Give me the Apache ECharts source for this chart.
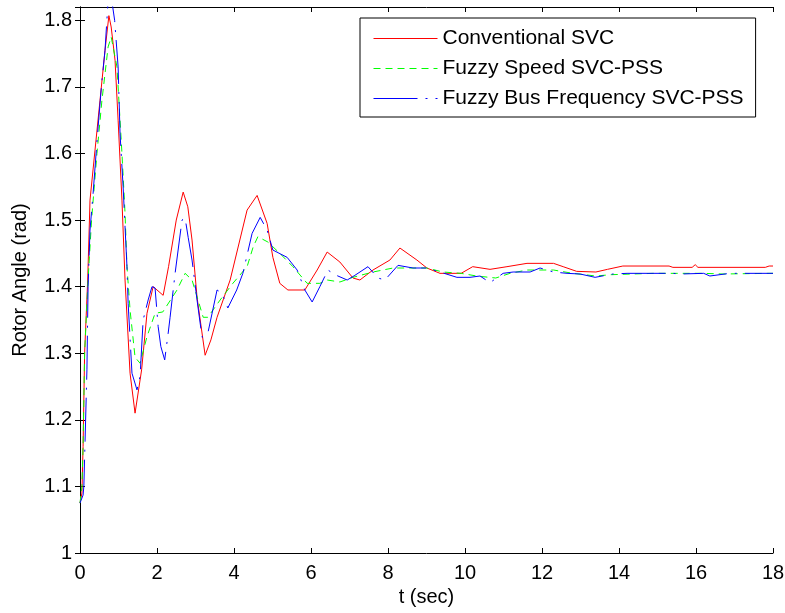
<!DOCTYPE html>
<html>
<head>
<meta charset="utf-8">
<script src="https://cdn.jsdelivr.net/npm/echarts@6/dist/echarts.min.js"></script>
<style>
  html, body { margin: 0; padding: 0; background: #fff; }
  #chart { width: 785px; height: 613px; }
</style>
</head>
<body>
<div id="chart"></div>
<script>
  // Conventional SVC
  var tRed = [0, 0.05, 0.08, 0.12, 0.2, 0.26, 0.39, 0.52, 0.65, 0.75, 0.81, 0.91, 0.99, 1.09, 1.17, 1.3, 1.43, 1.6, 1.74, 1.9, 2.0, 2.16, 2.3, 2.5, 2.68, 2.8, 2.91, 3.04, 3.25, 3.4, 3.56, 3.9, 4.34, 4.6, 4.86, 5.01, 5.19, 5.4, 5.84, 6.16, 6.42, 6.75, 7.09, 7.27, 7.61, 8.05, 8.31, 8.75, 9.01, 9.35, 9.9, 10.2, 10.65, 11.09, 11.61, 12.3, 12.55, 12.9, 13.4, 13.7, 14.1, 15.3, 15.4, 15.9, 15.98, 16.05, 17.8, 17.9, 18]
  var vRed = [1.075, 1.09, 1.16, 1.3, 1.41, 1.53, 1.605, 1.68, 1.755, 1.807, 1.79, 1.74, 1.65, 1.53, 1.41, 1.27, 1.21, 1.275, 1.36, 1.4, 1.395, 1.387, 1.43, 1.5, 1.542, 1.52, 1.47, 1.384, 1.297, 1.32, 1.354, 1.41, 1.515, 1.537, 1.495, 1.444, 1.405, 1.395, 1.395, 1.425, 1.452, 1.437, 1.413, 1.41, 1.425, 1.44, 1.458, 1.44, 1.428, 1.42, 1.42, 1.43, 1.426, 1.43, 1.435, 1.435, 1.43, 1.423, 1.422, 1.426, 1.431, 1.431, 1.429, 1.429, 1.433, 1.429, 1.429, 1.431, 1.431]

  // Fuzzy Speed SVC-PSS
  var tGreen = [0, 0.05, 0.08, 0.12, 0.2, 0.3, 0.44, 0.57, 0.73, 0.81, 0.96, 1.09, 1.17, 1.22, 1.3, 1.43, 1.56, 1.74, 1.95, 2.15, 2.52, 2.73, 2.91, 3.2, 3.32, 3.64, 3.97, 4.34, 4.5, 4.62, 4.88, 5.19, 5.53, 5.9, 6.23, 6.42, 6.75, 7.09, 7.61, 8.13, 9.0, 9.43, 9.9, 10.3, 10.8, 11.17, 11.61, 12.3, 12.8, 13.4, 13.8, 14.9, 16.2, 16.7, 17.9, 18]
  var vGreen = [1.075, 1.1, 1.16, 1.3, 1.4, 1.5, 1.6, 1.68, 1.76, 1.775, 1.73, 1.6, 1.51, 1.43, 1.365, 1.294, 1.285, 1.325, 1.36, 1.362, 1.395, 1.42, 1.41, 1.354, 1.354, 1.38, 1.405, 1.43, 1.46, 1.475, 1.467, 1.45, 1.43, 1.405, 1.405, 1.41, 1.407, 1.414, 1.422, 1.428, 1.428, 1.422, 1.42, 1.416, 1.413, 1.42, 1.425, 1.425, 1.42, 1.416, 1.418, 1.42, 1.42, 1.419, 1.42, 1.42]

  // Fuzzy Bus Frequency SVC-PSS
  var tBlue = [0, 0.08, 0.1, 0.18, 0.21, 0.26, 0.34, 0.47, 0.57, 0.65, 0.73, 0.8, 0.9, 0.99, 1.04, 1.12, 1.22, 1.25, 1.35, 1.48, 1.56, 1.64, 1.77, 1.87, 1.95, 2.03, 2.1, 2.2, 2.29, 2.34, 2.47, 2.65, 2.73, 2.81, 2.91, 3.04, 3.17, 3.32, 3.56, 3.69, 3.84, 4.07, 4.23, 4.47, 4.68, 4.86, 5.01, 5.38, 5.64, 5.84, 6.03, 6.23, 6.44, 6.62, 6.94, 7.14, 7.48, 7.74, 7.92, 8.26, 8.65, 9.0, 9.35, 9.79, 10.13, 10.39, 10.65, 10.99, 11.25, 11.69, 11.95, 12.3, 12.65, 12.99, 13.38, 13.84, 14.21, 15.4, 15.6, 16.2, 16.36, 16.88, 18]
  var vBlue = [1.075, 1.087, 1.1, 1.275, 1.4, 1.485, 1.54, 1.64, 1.71, 1.755, 1.83, 1.84, 1.8, 1.73, 1.63, 1.55, 1.43, 1.375, 1.27, 1.245, 1.265, 1.35, 1.38, 1.4, 1.398, 1.34, 1.31, 1.29, 1.33, 1.354, 1.42, 1.5, 1.503, 1.474, 1.44, 1.38, 1.324, 1.33, 1.395, 1.39, 1.368, 1.395, 1.42, 1.48, 1.504, 1.485, 1.455, 1.444, 1.425, 1.395, 1.377, 1.4, 1.425, 1.418, 1.41, 1.417, 1.43, 1.413, 1.41, 1.432, 1.428, 1.428, 1.422, 1.414, 1.414, 1.416, 1.406, 1.42, 1.422, 1.422, 1.428, 1.422, 1.42, 1.419, 1.414, 1.419, 1.42, 1.42, 1.419, 1.42, 1.416, 1.42, 1.42]

  var xTicks = [0, 2, 4, 6, 8, 10, 12, 14, 16, 18]
  var yTicks = [1, 1.1, 1.2, 1.3, 1.4, 1.5, 1.6, 1.7, 1.8]

  function pairs(t, v) {
    return t.map(function (x, i) { return [x, v[i]] })
  }

  var font = 'Liberation Sans'
  var axisBase = {
    axisLine: { show: true, lineStyle: { color: '#000', width: 1 } },
    axisTick: { show: true, inside: true, length: 5, lineStyle: { color: '#000' } },
    splitLine: { show: false }
  }

  var chart = echarts.init(document.getElementById('chart'))
  chart.setOption({
    backgroundColor: '#fff',
    animation: false,
    grid: { left: 80, right: 12, top: 7, bottom: 60, outerBoundsMode: 'none' },
    legend: {
      orient: 'vertical',
      left: 360,
      top: 18,
      padding: [10, 12, 8, 13],
      itemWidth: 64,
      itemHeight: 14,
      itemGap: 9,
      borderColor: '#000',
      borderWidth: 1,
      borderRadius: 0,
      backgroundColor: '#fff',
      itemStyle: { opacity: 0 },
      lineStyle: { width: 1 },
      textStyle: { fontFamily: font, fontSize: 21, color: '#000' },
      data: ['Conventional SVC', 'Fuzzy Speed SVC-PSS', 'Fuzzy Bus Frequency SVC-PSS']
    },
    xAxis: [
      Object.assign({
        type: 'value', min: xTicks[0], max: xTicks[xTicks.length - 1], interval: 2,
        name: 't (sec)', nameLocation: 'middle', nameGap: 34,
        nameTextStyle: { fontFamily: font, fontSize: 20, color: '#000' },
        axisLabel: { fontFamily: font, fontSize: 20, color: '#000', margin: 10 }
      }, axisBase),
      Object.assign({
        type: 'value', position: 'top', min: 0, max: 18, interval: 2,
        axisLabel: { show: false }
      }, axisBase)
    ],
    yAxis: [
      Object.assign({
        type: 'value', min: yTicks[0], max: 1.82, interval: 0.1,
        name: 'Rotor Angle (rad)', nameLocation: 'middle', nameGap: 50,
        nameTextStyle: { fontFamily: font, fontSize: 20, color: '#000' },
        axisLabel: {
          fontFamily: font, fontSize: 20, color: '#000', margin: 8,
          showMaxLabel: false,
          formatter: function (v) { return yTicks.indexOf(Math.round(v * 10) / 10) >= 0 ? String(Math.round(v * 10) / 10) : '' }
        }
      }, axisBase),
      Object.assign({
        type: 'value', position: 'right', min: 1, max: 1.82, interval: 0.1,
        axisLabel: { show: false }
      }, axisBase)
    ],
    series: [
      {
        name: 'Conventional SVC', type: 'line', symbol: 'none', clip: true,
        lineStyle: { color: '#ff0000', width: 1 }, itemStyle: { color: '#ff0000' },
        data: pairs(tRed, vRed)
      },
      {
        name: 'Fuzzy Speed SVC-PSS', type: 'line', symbol: 'none', clip: true,
        lineStyle: { color: '#00ff00', width: 1, type: [7, 5] }, itemStyle: { color: '#00ff00' },
        data: pairs(tGreen, vGreen)
      },
      {
        name: 'Fuzzy Bus Frequency SVC-PSS', type: 'line', symbol: 'none', clip: true,
        lineStyle: { color: '#0000ff', width: 1, type: [44, 8, 2, 8] }, itemStyle: { color: '#0000ff' },
        data: pairs(tBlue, vBlue)
      }
    ]
  })
</script>
</body>
</html>
